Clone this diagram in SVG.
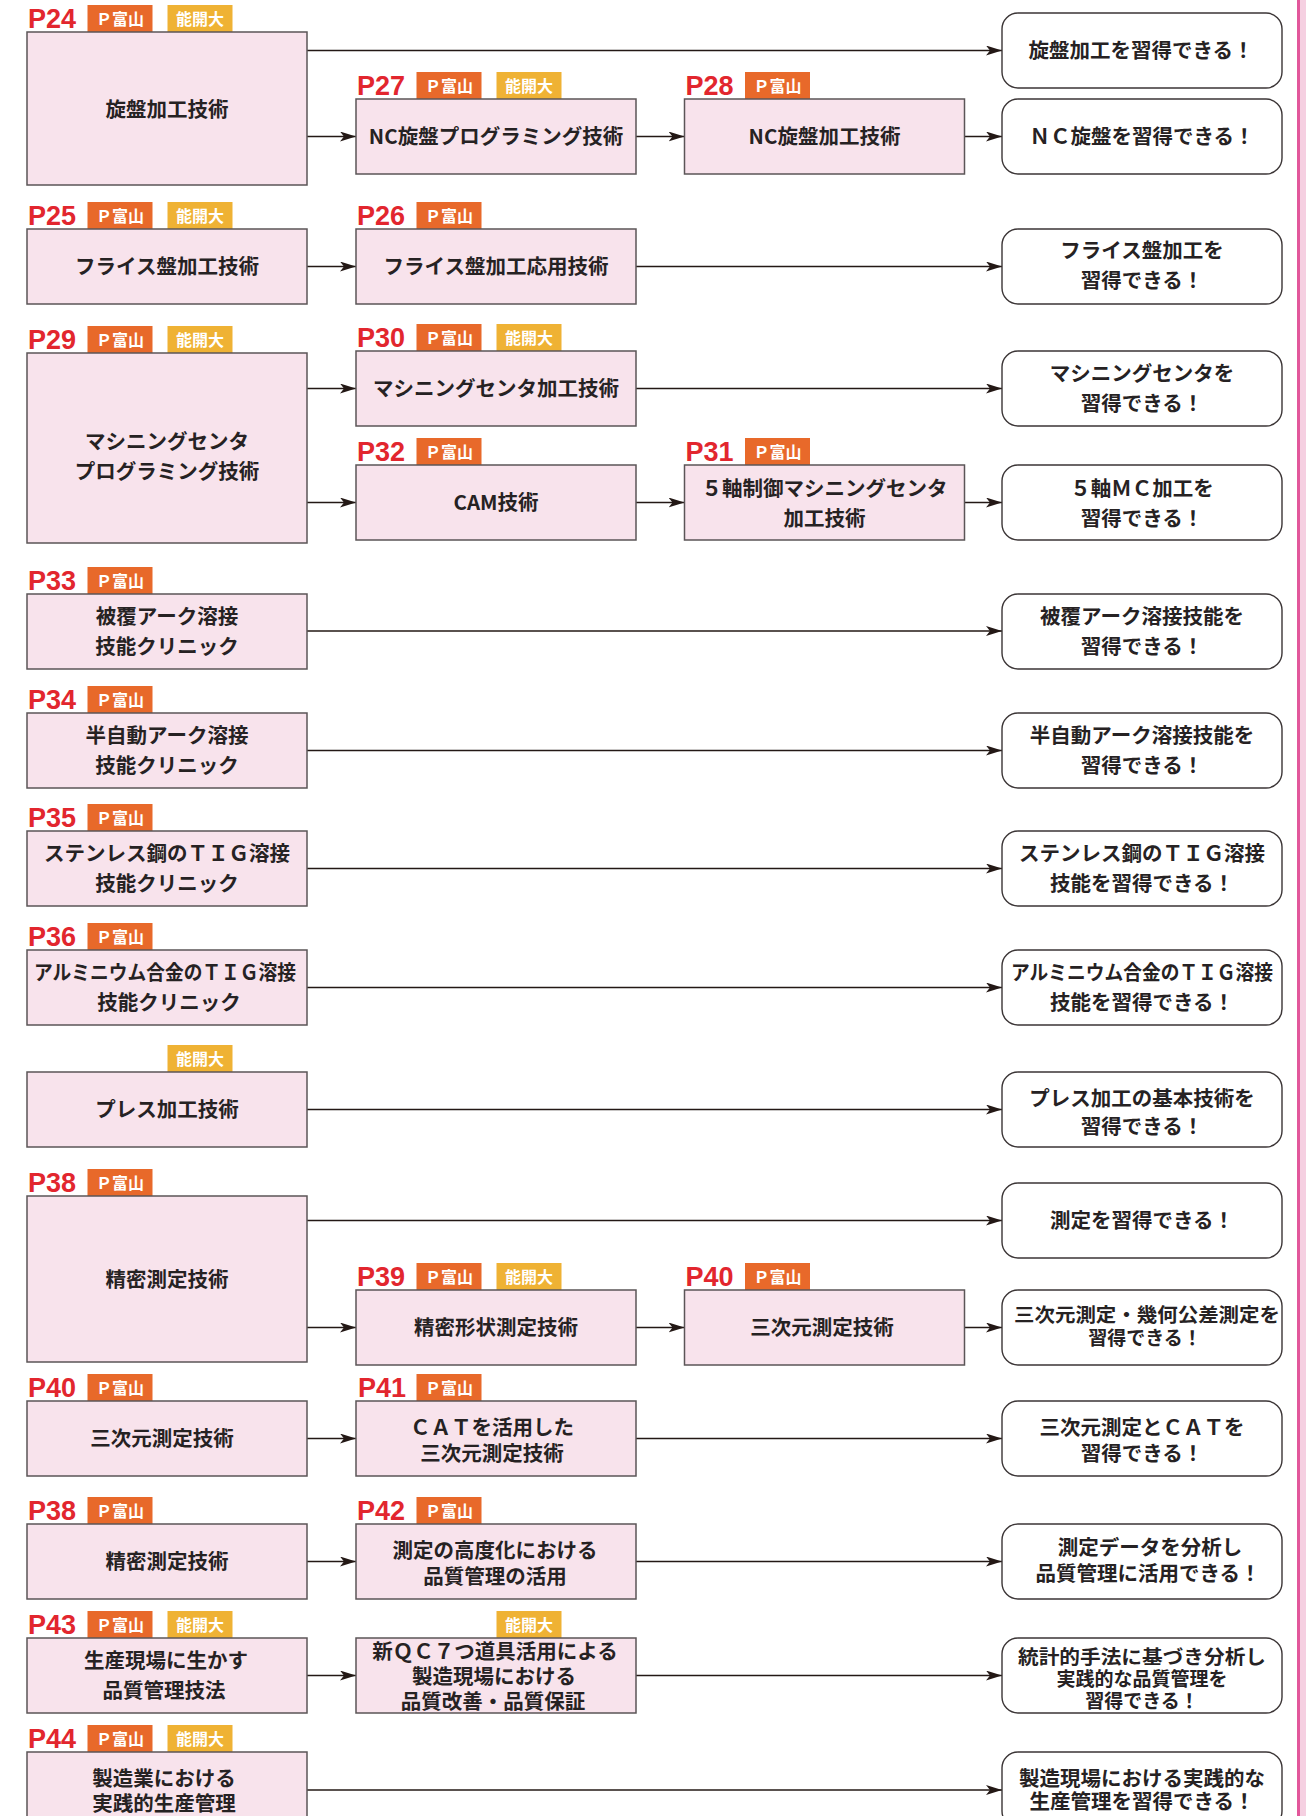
<svg xmlns="http://www.w3.org/2000/svg" width="1306" height="1816" viewBox="0 0 1306 1816">
<defs>
<style>
.box{fill:#f8e3ec;stroke:#5b5557;stroke-width:1.5}
.res{fill:#fff;stroke:#3b3536;stroke-width:1.4}
.lbl{font-family:"Liberation Sans",Arial,sans-serif;font-size:27px;font-weight:700;fill:#e2262e}
.bo{fill:#e8692a}
.by{fill:#efb234}
.bt{font-family:"Noto Sans CJK JP",sans-serif;font-size:16px;font-weight:700;fill:#fff;text-anchor:middle}
.t{font-family:"Noto Sans CJK JP",sans-serif;font-size:20.5px;font-weight:700;fill:#262223;text-anchor:middle}
.s{font-size:19px}
.cn line{stroke:#231815;stroke-width:1.4;marker-end:url(#ah)}
</style>
<marker id="ah" markerUnits="userSpaceOnUse" markerWidth="16" markerHeight="10" refX="16" refY="5" orient="auto" viewBox="0 0 16 10">
<path d="M0,0 L16,5 L0,10 L4,5 Z" fill="#231815"/>
</marker>
</defs>
<rect width="1306" height="1816" fill="#fff"/>
<rect x="1297" y="0" width="3" height="1816" fill="#e2579b"/>
<rect x="1300" y="0" width="6" height="1816" fill="#f5d0e1"/>

<g class="cn" id="connectors">
<line x1="307" y1="50.5" x2="1002" y2="50.5"/>
<line x1="307" y1="136.5" x2="356" y2="136.5"/>
<line x1="636" y1="136.5" x2="684.5" y2="136.5"/>
<line x1="964.5" y1="136.5" x2="1002" y2="136.5"/>
<line x1="307" y1="266.5" x2="356" y2="266.5"/>
<line x1="636" y1="266.5" x2="1002" y2="266.5"/>
<line x1="307" y1="388.5" x2="356" y2="388.5"/>
<line x1="636" y1="388.5" x2="1002" y2="388.5"/>
<line x1="307" y1="502.5" x2="356" y2="502.5"/>
<line x1="636" y1="502.5" x2="684.5" y2="502.5"/>
<line x1="964.5" y1="502.5" x2="1002" y2="502.5"/>
<line x1="307" y1="631" x2="1002" y2="631"/>
<line x1="307" y1="750.5" x2="1002" y2="750.5"/>
<line x1="307" y1="868.5" x2="1002" y2="868.5"/>
<line x1="307" y1="987.5" x2="1002" y2="987.5"/>
<line x1="307" y1="1109.5" x2="1002" y2="1109.5"/>
<line x1="307" y1="1220.5" x2="1002" y2="1220.5"/>
<line x1="307" y1="1327.5" x2="356" y2="1327.5"/>
<line x1="636" y1="1327.5" x2="684.5" y2="1327.5"/>
<line x1="964.5" y1="1327.5" x2="1002" y2="1327.5"/>
<line x1="307" y1="1438.5" x2="356" y2="1438.5"/>
<line x1="636" y1="1438.5" x2="1002" y2="1438.5"/>
<line x1="307" y1="1561.5" x2="356" y2="1561.5"/>
<line x1="636" y1="1561.5" x2="1002" y2="1561.5"/>
<line x1="307" y1="1675.5" x2="356" y2="1675.5"/>
<line x1="636" y1="1675.5" x2="1002" y2="1675.5"/>
<line x1="307" y1="1790" x2="1002" y2="1790"/>
</g>

<!-- Row A -->
<g id="n-p24">
<text class="lbl" x="28" y="28">P24</text>
<rect class="bo" x="87.5" y="5" width="65" height="27"/><text class="bt" x="120" y="24.5">Ｐ富山</text>
<rect class="by" x="167.5" y="5" width="65" height="27"/><text class="bt" x="200" y="24.5">能開大</text>
<rect class="box" x="27" y="32" width="280" height="153"/>
<text class="t" x="167" y="117">旋盤加工技術</text>
</g>
<g id="r-1">
<rect class="res" x="1002" y="13" width="280" height="75" rx="16"/>
<text class="t" x="1141" y="58">旋盤加工を習得できる！</text>
</g>
<g id="n-p27">
<text class="lbl" x="357" y="95">P27</text>
<rect class="bo" x="416.5" y="72" width="65" height="27"/><text class="bt" x="449" y="91.5">Ｐ富山</text>
<rect class="by" x="496.5" y="72" width="65" height="27"/><text class="bt" x="529" y="91.5">能開大</text>
<rect class="box" x="356" y="99" width="280" height="75"/>
<text class="t" x="496" y="144">NC旋盤プログラミング技術</text>
</g>
<g id="n-p28">
<text class="lbl" x="685.5" y="95">P28</text>
<rect class="bo" x="745" y="72" width="65" height="27"/><text class="bt" x="777.5" y="91.5">Ｐ富山</text>
<rect class="box" x="684.5" y="99" width="280" height="75"/>
<text class="t" x="824.5" y="144">NC旋盤加工技術</text>
</g>
<g id="r-2">
<rect class="res" x="1002" y="99" width="280" height="75" rx="16"/>
<text class="t" x="1142" y="144">ＮＣ旋盤を習得できる！</text>
</g>

<!-- Row B -->
<g id="n-p25">
<text class="lbl" x="28" y="225">P25</text>
<rect class="bo" x="87.5" y="202" width="65" height="27"/><text class="bt" x="120" y="221.5">Ｐ富山</text>
<rect class="by" x="167.5" y="202" width="65" height="27"/><text class="bt" x="200" y="221.5">能開大</text>
<rect class="box" x="27" y="229" width="280" height="75"/>
<text class="t" x="167" y="274">フライス盤加工技術</text>
</g>
<g id="n-p26">
<text class="lbl" x="357" y="225">P26</text>
<rect class="bo" x="416.5" y="202" width="65" height="27"/><text class="bt" x="449" y="221.5">Ｐ富山</text>
<rect class="box" x="356" y="229" width="280" height="75"/>
<text class="t" x="496" y="274">フライス盤加工応用技術</text>
</g>
<g id="r-3">
<rect class="res" x="1002" y="229" width="280" height="75" rx="16"/>
<text class="t" x="1142" y="257.5">フライス盤加工を</text>
<text class="t" x="1142" y="287.5">習得できる！</text>
</g>

<!-- Row C -->
<g id="n-p29">
<text class="lbl" x="28" y="349">P29</text>
<rect class="bo" x="87.5" y="326" width="65" height="27"/><text class="bt" x="120" y="345.5">Ｐ富山</text>
<rect class="by" x="167.5" y="326" width="65" height="27"/><text class="bt" x="200" y="345.5">能開大</text>
<rect class="box" x="27" y="353" width="280" height="190"/>
<text class="t" x="167" y="449">マシニングセンタ</text>
<text class="t" x="167" y="479">プログラミング技術</text>
</g>
<g id="n-p30">
<text class="lbl" x="357" y="347">P30</text>
<rect class="bo" x="416.5" y="324" width="65" height="27"/><text class="bt" x="449" y="343.5">Ｐ富山</text>
<rect class="by" x="496.5" y="324" width="65" height="27"/><text class="bt" x="529" y="343.5">能開大</text>
<rect class="box" x="356" y="351" width="280" height="75"/>
<text class="t" x="496" y="396">マシニングセンタ加工技術</text>
</g>
<g id="r-4">
<rect class="res" x="1002" y="351" width="280" height="75" rx="16"/>
<text class="t" x="1142" y="381">マシニングセンタを</text>
<text class="t" x="1142" y="411">習得できる！</text>
</g>
<g id="n-p32">
<text class="lbl" x="357" y="461">P32</text>
<rect class="bo" x="416.5" y="438" width="65" height="27"/><text class="bt" x="449" y="457.5">Ｐ富山</text>
<rect class="box" x="356" y="465" width="280" height="75"/>
<text class="t" x="496" y="510">CAM技術</text>
</g>
<g id="n-p31">
<text class="lbl" x="685.5" y="461">P31</text>
<rect class="bo" x="745" y="438" width="65" height="27"/><text class="bt" x="777.5" y="457.5">Ｐ富山</text>
<rect class="box" x="684.5" y="465" width="280" height="75"/>
<text class="t" x="824.5" y="496">５軸制御マシニングセンタ</text>
<text class="t" x="824.5" y="526">加工技術</text>
</g>
<g id="r-5">
<rect class="res" x="1002" y="465" width="280" height="75" rx="16"/>
<text class="t" x="1142" y="496">５軸ＭＣ加工を</text>
<text class="t" x="1142" y="526">習得できる！</text>
</g>

<!-- Row D -->
<g id="n-p33">
<text class="lbl" x="28" y="590">P33</text>
<rect class="bo" x="87.5" y="567" width="65" height="27"/><text class="bt" x="120" y="586.5">Ｐ富山</text>
<rect class="box" x="27" y="594" width="280" height="75"/>
<text class="t" x="167" y="624">被覆アーク溶接</text>
<text class="t" x="167" y="653.5">技能クリニック</text>
</g>
<g id="r-6">
<rect class="res" x="1002" y="594" width="280" height="75" rx="16"/>
<text class="t" x="1142" y="624">被覆アーク溶接技能を</text>
<text class="t" x="1142" y="653.5">習得できる！</text>
</g>

<!-- Row E -->
<g id="n-p34">
<text class="lbl" x="28" y="709">P34</text>
<rect class="bo" x="87.5" y="686" width="65" height="27"/><text class="bt" x="120" y="705.5">Ｐ富山</text>
<rect class="box" x="27" y="713" width="280" height="75"/>
<text class="t" x="167" y="743">半自動アーク溶接</text>
<text class="t" x="167" y="772.5">技能クリニック</text>
</g>
<g id="r-7">
<rect class="res" x="1002" y="713" width="280" height="75" rx="16"/>
<text class="t" x="1142" y="743">半自動アーク溶接技能を</text>
<text class="t" x="1142" y="772.5">習得できる！</text>
</g>

<!-- Row F -->
<g id="n-p35">
<text class="lbl" x="28" y="827">P35</text>
<rect class="bo" x="87.5" y="804" width="65" height="27"/><text class="bt" x="120" y="823.5">Ｐ富山</text>
<rect class="box" x="27" y="831" width="280" height="75"/>
<text class="t" x="167" y="861">ステンレス鋼のＴＩＧ溶接</text>
<text class="t" x="167" y="890.5">技能クリニック</text>
</g>
<g id="r-8">
<rect class="res" x="1002" y="831" width="280" height="75" rx="16"/>
<text class="t" x="1142" y="861">ステンレス鋼のＴＩＧ溶接</text>
<text class="t" x="1142" y="890.5">技能を習得できる！</text>
</g>

<!-- Row G -->
<g id="n-p36">
<text class="lbl" x="28" y="946">P36</text>
<rect class="bo" x="87.5" y="923" width="65" height="27"/><text class="bt" x="120" y="942.5">Ｐ富山</text>
<rect class="box" x="27" y="950" width="280" height="75"/>
<text class="t" x="165" y="980" textLength="262" lengthAdjust="spacingAndGlyphs">アルミニウム合金のＴＩＧ溶接</text>
<text class="t" x="169" y="1009.5">技能クリニック</text>
</g>
<g id="r-9">
<rect class="res" x="1002" y="950" width="280" height="75" rx="16"/>
<text class="t" x="1142" y="980" textLength="262" lengthAdjust="spacingAndGlyphs">アルミニウム合金のＴＩＧ溶接</text>
<text class="t" x="1142" y="1009.5">技能を習得できる！</text>
</g>

<!-- Row H -->
<g id="n-press">
<rect class="by" x="167.5" y="1045" width="65" height="27"/><text class="bt" x="200" y="1064.5">能開大</text>
<rect class="box" x="27" y="1072" width="280" height="75"/>
<text class="t" x="167" y="1117">プレス加工技術</text>
</g>
<g id="r-10">
<rect class="res" x="1002" y="1072" width="280" height="75" rx="16"/>
<text class="t" x="1142" y="1106">プレス加工の基本技術を</text>
<text class="t" x="1142" y="1134">習得できる！</text>
</g>

<!-- Row I -->
<g id="n-p38a">
<text class="lbl" x="28" y="1192">P38</text>
<rect class="bo" x="87.5" y="1169" width="65" height="27"/><text class="bt" x="120" y="1188.5">Ｐ富山</text>
<rect class="box" x="27" y="1196" width="280" height="166"/>
<text class="t" x="167" y="1286.5">精密測定技術</text>
</g>
<g id="r-11">
<rect class="res" x="1002" y="1183" width="280" height="75" rx="16"/>
<text class="t" x="1142" y="1228">測定を習得できる！</text>
</g>
<g id="n-p39">
<text class="lbl" x="357" y="1286">P39</text>
<rect class="bo" x="416.5" y="1263" width="65" height="27"/><text class="bt" x="449" y="1282.5">Ｐ富山</text>
<rect class="by" x="496.5" y="1263" width="65" height="27"/><text class="bt" x="529" y="1282.5">能開大</text>
<rect class="box" x="356" y="1290" width="280" height="75"/>
<text class="t" x="496" y="1335">精密形状測定技術</text>
</g>
<g id="n-p40a">
<text class="lbl" x="685.5" y="1286">P40</text>
<rect class="bo" x="745" y="1263" width="65" height="27"/><text class="bt" x="777.5" y="1282.5">Ｐ富山</text>
<rect class="box" x="684.5" y="1290" width="280" height="75"/>
<text class="t" x="822" y="1335">三次元測定技術</text>
</g>
<g id="r-12">
<rect class="res" x="1002" y="1290" width="280" height="75" rx="16"/>
<text class="t s" x="1147" y="1322" textLength="266" lengthAdjust="spacingAndGlyphs">三次元測定・幾何公差測定を</text>
<text class="t s" x="1145" y="1345">習得できる！</text>
</g>

<!-- Row J -->
<g id="n-p40b">
<text class="lbl" x="28" y="1397">P40</text>
<rect class="bo" x="87.5" y="1374" width="65" height="27"/><text class="bt" x="120" y="1393.5">Ｐ富山</text>
<rect class="box" x="27" y="1401" width="280" height="75"/>
<text class="t" x="162" y="1446">三次元測定技術</text>
</g>
<g id="n-p41">
<text class="lbl" x="358" y="1397">P41</text>
<rect class="bo" x="416.5" y="1374" width="65" height="27"/><text class="bt" x="449" y="1393.5">Ｐ富山</text>
<rect class="box" x="356" y="1401" width="280" height="75"/>
<text class="t" x="492" y="1435">ＣＡＴを活用した</text>
<text class="t" x="492" y="1461">三次元測定技術</text>
</g>
<g id="r-13">
<rect class="res" x="1002" y="1401" width="280" height="75" rx="16"/>
<text class="t" x="1142" y="1435">三次元測定とＣＡＴを</text>
<text class="t" x="1142" y="1461">習得できる！</text>
</g>

<!-- Row K -->
<g id="n-p38b">
<text class="lbl" x="28" y="1520">P38</text>
<rect class="bo" x="87.5" y="1497" width="65" height="27"/><text class="bt" x="120" y="1516.5">Ｐ富山</text>
<rect class="box" x="27" y="1524" width="280" height="75"/>
<text class="t" x="167" y="1569">精密測定技術</text>
</g>
<g id="n-p42">
<text class="lbl" x="357" y="1520">P42</text>
<rect class="bo" x="416.5" y="1497" width="65" height="27"/><text class="bt" x="449" y="1516.5">Ｐ富山</text>
<rect class="box" x="356" y="1524" width="280" height="75"/>
<text class="t" x="495" y="1558">測定の高度化における</text>
<text class="t" x="495" y="1584">品質管理の活用</text>
</g>
<g id="r-14">
<rect class="res" x="1002" y="1524" width="280" height="75" rx="16"/>
<text class="t" x="1150" y="1555">測定データを分析し</text>
<text class="t" x="1148" y="1581">品質管理に活用できる！</text>
</g>

<!-- Row L -->
<g id="n-p43">
<text class="lbl" x="28" y="1634">P43</text>
<rect class="bo" x="87.5" y="1611" width="65" height="27"/><text class="bt" x="120" y="1630.5">Ｐ富山</text>
<rect class="by" x="167.5" y="1611" width="65" height="27"/><text class="bt" x="200" y="1630.5">能開大</text>
<rect class="box" x="27" y="1638" width="280" height="75"/>
<text class="t" x="166" y="1667.5">生産現場に生かす</text>
<text class="t" x="164" y="1697.5">品質管理技法</text>
</g>
<g id="n-qc7">
<rect class="by" x="496.5" y="1611" width="65" height="27"/><text class="bt" x="529" y="1630.5">能開大</text>
<rect class="box" x="356" y="1638" width="280" height="75"/>
<text class="t" x="495" y="1658.5">新ＱＣ７つ道具活用による</text>
<text class="t" x="494" y="1683.5">製造現場における</text>
<text class="t" x="493" y="1708.5">品質改善・品質保証</text>
</g>
<g id="r-15">
<rect class="res" x="1002" y="1638" width="280" height="75" rx="16"/>
<text class="t s" x="1142" y="1663.5" textLength="248" lengthAdjust="spacingAndGlyphs">統計的手法に基づき分析し</text>
<text class="t s" x="1142" y="1685.5">実践的な品質管理を</text>
<text class="t s" x="1142" y="1707.5">習得できる！</text>
</g>

<!-- Row M -->
<g id="n-p44">
<text class="lbl" x="28" y="1748">P44</text>
<rect class="bo" x="87.5" y="1725" width="65" height="27"/><text class="bt" x="120" y="1744.5">Ｐ富山</text>
<rect class="by" x="167.5" y="1725" width="65" height="27"/><text class="bt" x="200" y="1744.5">能開大</text>
<rect class="box" x="27" y="1752" width="280" height="75"/>
<text class="t" x="164" y="1786">製造業における</text>
<text class="t" x="164" y="1811">実践的生産管理</text>
</g>
<g id="r-16">
<rect class="res" x="1002" y="1752" width="280" height="75" rx="16"/>
<text class="t" x="1142" y="1786">製造現場における実践的な</text>
<text class="t" x="1142" y="1809">生産管理を習得できる！</text>
</g>
</svg>
